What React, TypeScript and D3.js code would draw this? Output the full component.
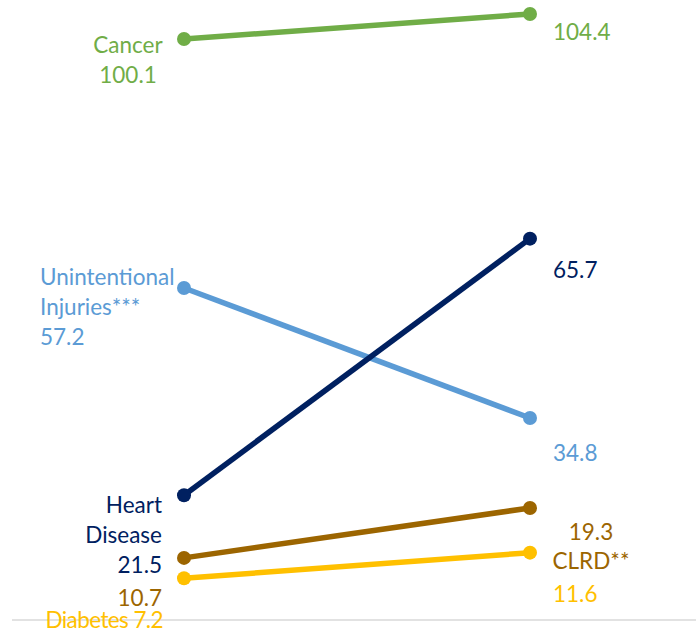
import React from "react";
import * as d3 from "d3";

// causes of death, two time points (rate per 100k)
const causes = ["Cancer", "Unintentional Injuries***", "Heart Disease", "CLRD**", "Diabetes"];
const startValues = [100.1, 57.2, 21.5, 10.7, 7.2];
const endValues = [104.4, 34.8, 65.7, 19.3, 11.6];
const colors = ["#70AD47", "#5B9BD5", "#002060", "#9C6500", "#FFC000"];

const W = 696;
const H = 633;
const FONT = "Lato, 'Open Sans', sans-serif";
const FS = 22.5;

// label layout: lines, anchor, x, and baseline offset from the point
type Label = { lines: string[]; anchor: string; x: number; dy: number };
const leftLabels: Label[] = [
  { lines: ["Cancer", "100.1"], anchor: "middle", x: 128, dy: 14 },
  { lines: ["Unintentional", "Injuries***", "57.2"], anchor: "start", x: 40, dy: -3 },
  { lines: ["Heart", "Disease", "21.5"], anchor: "end", x: 162, dy: 18 },
  { lines: ["10.7"], anchor: "end", x: 162, dy: 48 },
  { lines: ["Diabetes 7.2"], anchor: "end", x: 163, dy: 50 },
];
const rightLabels: Label[] = [
  { lines: ["104.4"], anchor: "start", x: 553, dy: 26 },
  { lines: ["34.8"], anchor: "start", x: 553, dy: 43 },
  { lines: ["65.7"], anchor: "start", x: 553, dy: 39 },
  { lines: ["19.3", "CLRD**"], anchor: "middle", x: 591, dy: 32 },
  { lines: ["11.6"], anchor: "start", x: 553, dy: 49 },
];

export default function App() {
  const x = d3.scalePoint<string>().domain(["start", "end"]).range([184, 530]);
  const y = d3.scaleLinear().domain([0, 104.4]).range([620, 14]);
  const line = d3.line<[string, number]>().x((d) => x(d[0])!).y((d) => y(d[1]));

  const lineH = 30;

  return (
    <svg width={W} height={H} style={{ position: "absolute", left: 0, top: 0 }} fontFamily={FONT}>
      <line x1={12} x2={W} y1={y(0)} y2={y(0)} stroke="#d9d9d9" strokeWidth={1.5} />
      {causes.map((c, i) => {
        const pts: [string, number][] = [["start", startValues[i]], ["end", endValues[i]]];
        return (
          <g key={c}>
            <path d={line(pts)!} stroke={colors[i]} strokeWidth={5.5} fill="none" />
            {pts.map((p) => (
              <circle key={p[0]} cx={x(p[0])} cy={y(p[1])} r={7} fill={colors[i]} />
            ))}
          </g>
        );
      })}
      {leftLabels.map((l, i) => (
        <text key={"l" + i} x={l.x} y={y(startValues[i]) + l.dy} textAnchor={l.anchor} fill={colors[i]} fontSize={FS}
          letterSpacing={i === 4 ? -0.6 : 0}>
          {l.lines.map((t, j) => (
            <tspan key={j} x={l.x} dy={j === 0 ? 0 : lineH}>{t}</tspan>
          ))}
        </text>
      ))}
      {rightLabels.map((l, i) => (
        <text key={"r" + i} x={l.x} y={y(endValues[i]) + l.dy} textAnchor={l.anchor} fill={colors[i]} fontSize={FS}>
          {l.lines.map((t, j) => (
            <tspan key={j} x={l.x} dy={j === 0 ? 0 : lineH - 1}>{t}</tspan>
          ))}
        </text>
      ))}
    </svg>
  );
}
